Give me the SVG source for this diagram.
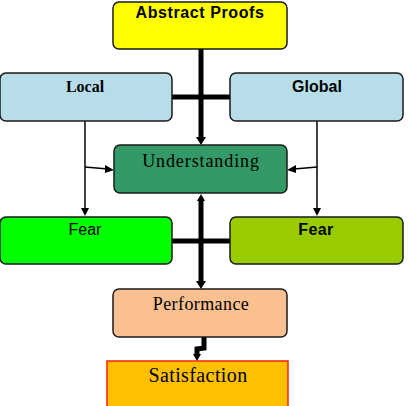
<svg xmlns="http://www.w3.org/2000/svg" width="410" height="406" viewBox="0 0 410 406">
<style>
.box{stroke:#1a1a1a;stroke-width:1.5}
.thick{stroke:#000;stroke-width:5;fill:none}
.thin{stroke:#000;stroke-width:1.5;fill:none}
.head{fill:#000}
.sans{font-family:"Liberation Sans",Arial,sans-serif;font-size:16px;text-anchor:middle}
.serif{font-family:"Liberation Serif","Times New Roman",serif;text-anchor:middle}
</style>
<rect width="410" height="406" fill="#fff"/>
<g id="connectors">
<line class="thick" x1="201" y1="49" x2="201" y2="139"/>
<path class="head" d="M196,137 L206,137 L201,145 z"/>
<line class="thick" x1="172" y1="97" x2="230" y2="97"/>
<line class="thin" x1="85" y1="121" x2="85" y2="211"/>
<path class="head" d="M81,208 L89,208 L85,216 z"/>
<line class="thin" x1="317" y1="121" x2="317" y2="211"/>
<path class="head" d="M313,208 L321,208 L317,216 z"/>
<line class="thin" x1="85" y1="167" x2="108" y2="169"/>
<path class="head" d="M105,165 L114,170 L105,173 z"/>
<line class="thin" x1="317" y1="167" x2="294" y2="169"/>
<path class="head" d="M296,165 L287,170 L296,173 z"/>
<line class="thick" x1="201" y1="200" x2="201" y2="283"/>
<path class="head" d="M197,201 L205,201 L201,194 z"/>
<path class="head" d="M196,281 L206,281 L201,289 z"/>
<line class="thick" x1="172" y1="241" x2="230" y2="241"/>
<path class="thick" d="M204,337 L204,348 L197,349 L197,356"/>
<path class="head" d="M193,354 L201,354 L197,361 z"/>
</g>
<g id="abstract">
<rect class="box" x="113" y="2" width="174" height="47" rx="6" fill="#ffff00"/>
<text class="sans" x="200" y="18" font-weight="bold" letter-spacing="0.6">Abstract Proofs</text>
</g>
<g id="local">
<rect class="box" x="0" y="73" width="172" height="48" rx="6" fill="#b7dee8"/>
<text class="serif" x="85" y="92" font-weight="bold" font-size="16">Local</text>
</g>
<g id="global">
<rect class="box" x="230" y="73" width="173" height="48" rx="6" fill="#b7dee8"/>
<text class="sans" x="317" y="92" font-weight="bold">Global</text>
</g>
<g id="understanding">
<rect class="box" x="114" y="145" width="173" height="48" rx="6" fill="#339966"/>
<text class="serif" x="201" y="167" font-size="18" letter-spacing="0.9">Understanding</text>
</g>
<g id="fear-left">
<rect class="box" x="0" y="217" width="172" height="47" rx="6" fill="#00ff00"/>
<text class="sans" x="85" y="235">Fear</text>
</g>
<g id="fear-right">
<rect class="box" x="230" y="217" width="173" height="47" rx="6" fill="#99cc00"/>
<text class="sans" x="316" y="235" font-weight="bold" letter-spacing="0.4">Fear</text>
</g>
<g id="performance">
<rect class="box" x="113" y="289" width="174" height="48" rx="6" fill="#fac090"/>
<text class="serif" x="201" y="310" font-size="18" letter-spacing="0.4">Performance</text>
</g>
<g id="satisfaction">
<rect x="107" y="361" width="181" height="50" fill="#ffc000" stroke="#ff2000" stroke-width="1.5"/>
<text class="serif" x="198" y="382" font-size="20" letter-spacing="0.4">Satisfaction</text>
</g>
</svg>
